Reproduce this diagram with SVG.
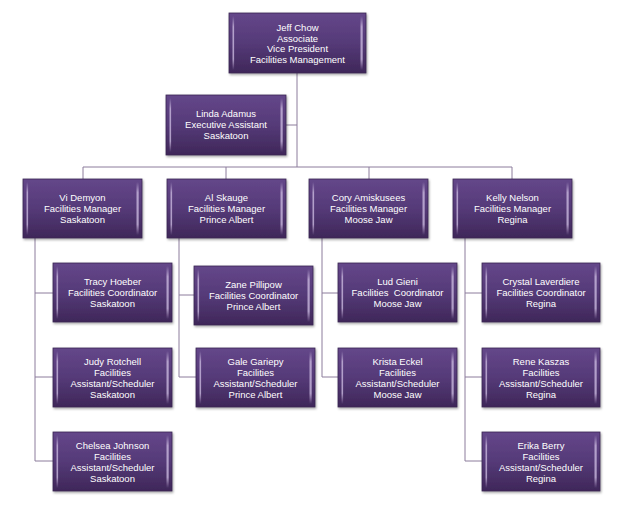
<svg xmlns="http://www.w3.org/2000/svg" width="635" height="507" viewBox="0 0 635 507">
<defs>
<linearGradient id="g" x1="0" y1="0" x2="0" y2="1">
<stop offset="0" stop-color="#64478a"/>
<stop offset="0.5" stop-color="#553a78"/>
<stop offset="1" stop-color="#3f2759"/>
</linearGradient>
<linearGradient id="edge" x1="0" y1="0" x2="0" y2="1">
<stop offset="0" stop-color="#c9b8de" stop-opacity="0"/>
<stop offset="0.2" stop-color="#c9b8de" stop-opacity="0.8"/>
<stop offset="0.8" stop-color="#c9b8de" stop-opacity="0.8"/>
<stop offset="1" stop-color="#c9b8de" stop-opacity="0"/>
</linearGradient>
<filter id="sh" x="-10%" y="-10%" width="130%" height="130%">
<feDropShadow dx="1" dy="1.5" stdDeviation="1.2" flood-color="#000" flood-opacity="0.35"/>
</filter>
</defs>
<style>
.box{fill:url(#g);stroke:#3a2452;stroke-width:0.8;filter:url(#sh)}
.e{fill:url(#edge)}
.t{fill:#ffffff;font-family:"Liberation Sans",Arial,sans-serif;font-size:9.5px;text-anchor:middle}
.c{fill:none;stroke:#8c7d9c;stroke-width:1}
</style>
<rect width="635" height="507" fill="#ffffff"/>
<g id="connectors">
<path class="c" d="M297 73V167M286 125H297M83 167H512M83 167V179M226 167V179M369 167V179M512 167V179"/>
<path class="c" d="M35 238V461M35 293H53M35 377H53M35 461H53"/>
<path class="c" d="M179 238V377M179 295H194M179 377H196"/>
<path class="c" d="M322 238V377M322 293H338M322 377H338"/>
<path class="c" d="M465 238V461M465 293H482M465 377H482M465 461H482"/>
</g>
<g id="jeff">
<rect class="box" x="229" y="13" width="137" height="60"/>
<rect class="e" x="232.5" y="16" width="1.6" height="54"/><rect class="e" x="360.5" y="16" width="2.2" height="54"/>
<text class="t" x="297.5" y="30.5">Jeff Chow</text>
<text class="t" x="297.5" y="41.5">Associate</text>
<text class="t" x="297.5" y="52">Vice President</text>
<text class="t" x="297.5" y="62.5">Facilities Management</text>
</g>
<g id="linda">
<rect class="box" x="166" y="95" width="120" height="60"/>
<rect class="e" x="169.5" y="98" width="1.6" height="54"/><rect class="e" x="280.5" y="98" width="2.2" height="54"/>
<text class="t" x="226" y="117">Linda Adamus</text>
<text class="t" x="226" y="128">Executive Assistant</text>
<text class="t" x="226" y="139">Saskatoon</text>
</g>
<g id="vi">
<rect class="box" x="23" y="179" width="119" height="59"/>
<rect class="e" x="26.5" y="182" width="1.6" height="53"/><rect class="e" x="136.5" y="182" width="2.2" height="53"/>
<text class="t" x="82.5" y="201">Vi Demyon</text>
<text class="t" x="82.5" y="212">Facilities Manager</text>
<text class="t" x="82.5" y="223">Saskatoon</text>
</g>
<g id="al">
<rect class="box" x="167" y="179" width="119" height="59"/>
<rect class="e" x="170.5" y="182" width="1.6" height="53"/><rect class="e" x="280.5" y="182" width="2.2" height="53"/>
<text class="t" x="226.5" y="201">Al Skauge</text>
<text class="t" x="226.5" y="212">Facilities Manager</text>
<text class="t" x="226.5" y="223">Prince Albert</text>
</g>
<g id="cory">
<rect class="box" x="309" y="179" width="119" height="59"/>
<rect class="e" x="312.5" y="182" width="1.6" height="53"/><rect class="e" x="422.5" y="182" width="2.2" height="53"/>
<text class="t" x="368.5" y="201">Cory Amiskusees</text>
<text class="t" x="368.5" y="212">Facilities Manager</text>
<text class="t" x="368.5" y="223">Moose Jaw</text>
</g>
<g id="kelly">
<rect class="box" x="453" y="179" width="119" height="59"/>
<rect class="e" x="456.5" y="182" width="1.6" height="53"/><rect class="e" x="566.5" y="182" width="2.2" height="53"/>
<text class="t" x="512.5" y="201">Kelly Nelson</text>
<text class="t" x="512.5" y="212">Facilities Manager</text>
<text class="t" x="512.5" y="223">Regina</text>
</g>
<g id="tracy">
<rect class="box" x="53" y="263" width="119" height="59"/>
<rect class="e" x="56.5" y="266" width="1.6" height="53"/><rect class="e" x="166.5" y="266" width="2.2" height="53"/>
<text class="t" x="112.5" y="285">Tracy Hoeber</text>
<text class="t" x="112.5" y="296">Facilities Coordinator</text>
<text class="t" x="112.5" y="307">Saskatoon</text>
</g>
<g id="judy">
<rect class="box" x="53" y="348" width="119" height="59"/>
<rect class="e" x="56.5" y="351" width="1.6" height="53"/><rect class="e" x="166.5" y="351" width="2.2" height="53"/>
<text class="t" x="112.5" y="364.5">Judy Rotchell</text>
<text class="t" x="112.5" y="375.5">Facilities</text>
<text class="t" x="112.5" y="386.5">Assistant/Scheduler</text>
<text class="t" x="112.5" y="397.5">Saskatoon</text>
</g>
<g id="chelsea">
<rect class="box" x="53" y="432" width="119" height="59"/>
<rect class="e" x="56.5" y="435" width="1.6" height="53"/><rect class="e" x="166.5" y="435" width="2.2" height="53"/>
<text class="t" x="112.5" y="448.5">Chelsea Johnson</text>
<text class="t" x="112.5" y="459.5">Facilities</text>
<text class="t" x="112.5" y="470.5">Assistant/Scheduler</text>
<text class="t" x="112.5" y="481.5">Saskatoon</text>
</g>
<g id="zane">
<rect class="box" x="194" y="266" width="119" height="59"/>
<rect class="e" x="197.5" y="269" width="1.6" height="53"/><rect class="e" x="307.5" y="269" width="2.2" height="53"/>
<text class="t" x="253.5" y="288">Zane Pillipow</text>
<text class="t" x="253.5" y="299">Facilities Coordinator</text>
<text class="t" x="253.5" y="310">Prince Albert</text>
</g>
<g id="gale">
<rect class="box" x="196" y="348" width="119" height="59"/>
<rect class="e" x="199.5" y="351" width="1.6" height="53"/><rect class="e" x="309.5" y="351" width="2.2" height="53"/>
<text class="t" x="255.5" y="364.5">Gale Gariepy</text>
<text class="t" x="255.5" y="375.5">Facilities</text>
<text class="t" x="255.5" y="386.5">Assistant/Scheduler</text>
<text class="t" x="255.5" y="397.5">Prince Albert</text>
</g>
<g id="lud">
<rect class="box" x="338" y="263" width="119" height="59"/>
<rect class="e" x="341.5" y="266" width="1.6" height="53"/><rect class="e" x="451.5" y="266" width="2.2" height="53"/>
<text class="t" x="397.5" y="285">Lud Gieni</text>
<text class="t" x="397.5" y="296" xml:space="preserve">Facilities  Coordinator</text>
<text class="t" x="397.5" y="307">Moose Jaw</text>
</g>
<g id="krista">
<rect class="box" x="338" y="348" width="119" height="59"/>
<rect class="e" x="341.5" y="351" width="1.6" height="53"/><rect class="e" x="451.5" y="351" width="2.2" height="53"/>
<text class="t" x="397.5" y="364.5">Krista Eckel</text>
<text class="t" x="397.5" y="375.5">Facilities</text>
<text class="t" x="397.5" y="386.5">Assistant/Scheduler</text>
<text class="t" x="397.5" y="397.5">Moose Jaw</text>
</g>
<g id="crystal">
<rect class="box" x="482" y="263" width="118" height="59"/>
<rect class="e" x="485.5" y="266" width="1.6" height="53"/><rect class="e" x="594.5" y="266" width="2.2" height="53"/>
<text class="t" x="541" y="285">Crystal Laverdiere</text>
<text class="t" x="541" y="296">Facilities Coordinator</text>
<text class="t" x="541" y="307">Regina</text>
</g>
<g id="rene">
<rect class="box" x="482" y="348" width="118" height="59"/>
<rect class="e" x="485.5" y="351" width="1.6" height="53"/><rect class="e" x="594.5" y="351" width="2.2" height="53"/>
<text class="t" x="541" y="364.5">Rene Kaszas</text>
<text class="t" x="541" y="375.5">Facilities</text>
<text class="t" x="541" y="386.5">Assistant/Scheduler</text>
<text class="t" x="541" y="397.5">Regina</text>
</g>
<g id="erika">
<rect class="box" x="482" y="432" width="118" height="59"/>
<rect class="e" x="485.5" y="435" width="1.6" height="53"/><rect class="e" x="594.5" y="435" width="2.2" height="53"/>
<text class="t" x="541" y="448.5">Erika Berry</text>
<text class="t" x="541" y="459.5">Facilities</text>
<text class="t" x="541" y="470.5">Assistant/Scheduler</text>
<text class="t" x="541" y="481.5">Regina</text>
</g>
</svg>
